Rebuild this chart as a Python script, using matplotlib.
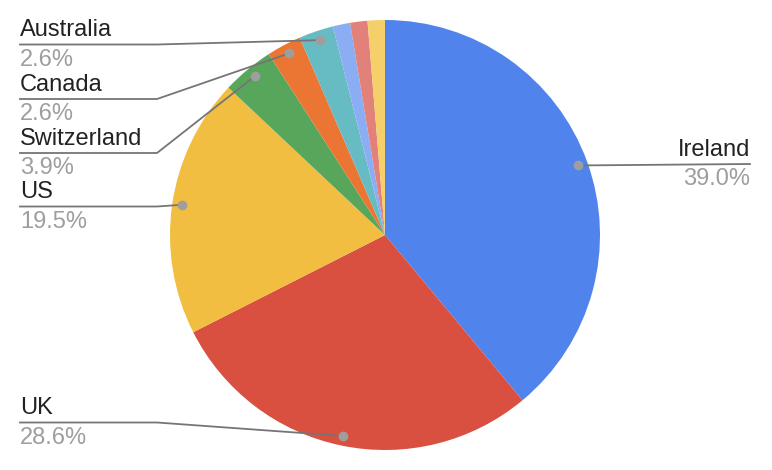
import numpy as np
import matplotlib.pyplot as plt

# slice data (share of total, %), clockwise from 12 o'clock
countries = ['Ireland', 'UK', 'US', 'Switzerland', 'Canada', 'Australia', 'Other 1', 'Other 2', 'Other 3']
shares = [39.0, 28.6, 19.5, 3.9, 2.6, 2.6, 1.3, 1.3, 1.3]
colors = ['#5083EC', '#D95040', '#F1BE42', '#58A55C', '#EB7532',
          '#67BCC4', '#8AADF3', '#E2817A', '#F5CF6A']

# which slices get a label and where the label line sits (pixels from top)
labelled = ['Ireland', 'UK', 'US', 'Switzerland', 'Canada', 'Australia']
label_line_y = {'Australia': 44.5, 'Canada': 99, 'Switzerland': 153,
                'US': 206.5, 'UK': 422.5, 'Ireland': 164}

W, H = 772, 470
cx, cy, R = 385, 235, 215

plt.rcParams['font.family'] = ['Liberation Sans', 'DejaVu Sans']
fig = plt.figure(figsize=(W / 100, H / 100), dpi=100)
ax = fig.add_axes([0, 0, 1, 1])

ax.pie(shares, colors=colors, startangle=90, counterclock=False,
       center=(cx, H - cy), radius=R,
       wedgeprops=dict(linewidth=0))
ax.set_xlim(0, W)
ax.set_ylim(0, H)
ax.set_aspect('equal')
ax.axis('off')

line_col = '#757575'
dot_col = '#9E9E9E'
fs = 17

cum = np.cumsum([0] + shares[:-1])
for name, share, start in zip(countries, shares, cum):
    if name not in labelled:
        continue
    mid = (start + share / 2) / 100 * 2 * np.pi  # clockwise from top
    dx = 0.955 * R * np.sin(mid)
    dy = 0.955 * R * np.cos(mid)
    px, py = cx + dx, H - cy + dy
    ly = H - label_line_y[name]
    pct = f'{share:.1f}%'
    if dx > 0:
        ax.plot([px, 750], [py, ly], color=line_col, lw=1.3, zorder=3)
        ax.text(750, ly + 8, name, ha='right', va='baseline', fontsize=fs, color='#222222')
        ax.text(750, ly - 21, pct, ha='right', va='baseline', fontsize=fs, color='#9E9E9E')
    else:
        ax.plot([20, 157, px], [ly, ly, py], color=line_col, lw=1.3, zorder=3)
        ax.text(20, ly + 8, name, ha='left', va='baseline', fontsize=fs, color='#222222')
        ax.text(20, ly - 21, pct, ha='left', va='baseline', fontsize=fs, color='#9E9E9E')
    ax.plot(px, py, 'o', color=dot_col, markersize=6, zorder=4)

fig.savefig('out.png', dpi=100)
